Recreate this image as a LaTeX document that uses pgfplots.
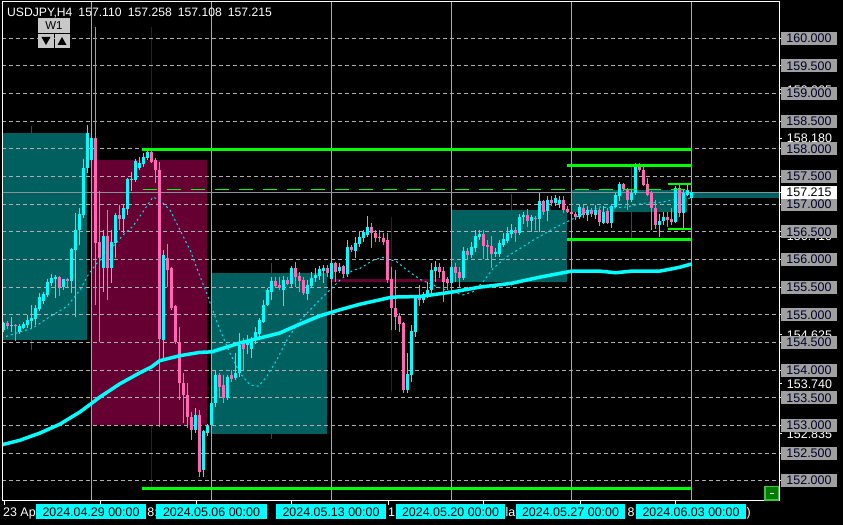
\documentclass[border=0pt]{standalone}
\usepackage{fontspec}
\setmainfont{Liberation Sans}
\usepackage{pgfplots}
\usepackage{pgfplotstable}
\pgfplotsset{compat=1.18}

\definecolor{bull}{RGB}{0,255,255}
\definecolor{bear}{RGB}{255,105,180}
\definecolor{tealbox}{RGB}{0,96,96}
\definecolor{crimbox}{RGB}{102,0,51}
\definecolor{gridc}{RGB}{175,175,175}
\definecolor{sepc}{RGB}{0,240,250}
\definecolor{bidc}{RGB}{135,145,155}
\definecolor{grn}{RGB}{0,255,0}
\definecolor{zigc}{RGB}{0,225,235}
\definecolor{lblgray}{RGB}{160,160,160}
\definecolor{lbltext}{RGB}{0,0,40}
\definecolor{btngray}{RGB}{200,200,200}
\definecolor{btngreen}{RGB}{0,125,0}
\definecolor{btnedge}{RGB}{70,190,70}

\newcommand\lblfont{\fontsize{12.5}{14}\selectfont}
\newcommand\hdrfont{\fontsize{12.2}{14}\selectfont}

\pgfplotstableread{
i o h l c
-22 154.72 154.87 154.69 154.86
-20 154.80 154.96 154.69 154.82
-18 154.69 154.84 154.66 154.80
-17 154.77 154.87 154.75 154.84
-16 154.81 154.99 154.76 154.90
-15 154.89 155.18 154.76 154.95
-14 154.93 155.18 154.81 155.13
-13 155.10 155.40 155.07 155.33
-12 155.25 155.42 155.19 155.37
-11 155.36 155.64 155.33 155.59
-10 155.57 155.74 155.52 155.67
-9 155.64 155.72 155.30 155.68
-7 155.50 155.65 155.45 155.65
-5 155.61 156.21 155.40 156.19
-4 156.18 156.84 154.96 156.54
-3 156.53 156.94 156.27 156.82
-2 156.80 157.82 156.75 157.65
-1 157.65 158.43 157.56 158.28
0 157.80 158.35 157.75 158.19
3 155.84 156.53 155.42 156.42
5 155.84 156.53 155.57 156.32
6 156.29 156.84 156.03 156.80
8 156.73 156.99 156.48 156.94
9 156.91 157.47 156.80 157.46
10 157.43 157.59 157.23 157.46
11 157.44 157.81 157.41 157.78
12 157.65 157.86 157.61 157.74
13 157.73 157.93 157.68 157.86
14 157.83 158.01 157.80 157.95
18 154.54 156.17 154.18 156.08
26 152.92 153.31 152.86 153.19
28 152.19 152.92 152.07 152.89
29 152.86 153.02 152.81 152.99
30 153.01 153.46 152.95 153.40
31 153.40 154.00 153.34 153.91
34 153.49 153.91 153.46 153.88
36 153.85 154.31 153.82 153.94
37 153.94 154.67 153.88 154.45
39 154.45 154.63 154.30 154.54
40 154.39 154.60 154.21 154.54
41 154.54 154.78 154.48 154.68
42 154.66 154.94 154.60 154.91
43 154.87 155.27 154.85 155.18
44 155.17 155.48 155.15 155.44
45 155.42 155.69 155.27 155.61
48 155.45 155.70 155.15 155.63
50 155.56 155.88 155.51 155.84
54 155.37 155.63 155.27 155.54
55 155.52 155.78 155.48 155.66
56 155.66 155.84 155.60 155.72
57 155.70 155.88 155.63 155.82
58 155.80 155.90 155.57 155.84
60 155.64 155.96 155.60 155.93
62 155.79 155.93 155.75 155.87
64 155.74 156.35 155.69 156.23
66 156.16 156.41 156.03 156.30
67 156.28 156.50 156.23 156.41
68 156.38 156.54 156.32 156.50
69 156.44 156.79 156.41 156.59
79 153.64 154.31 153.59 153.93
80 153.91 154.82 153.79 154.71
81 154.69 155.36 154.60 155.30
83 155.27 155.42 155.21 155.37
84 155.33 155.60 155.30 155.45
85 155.44 155.93 155.39 155.81
86 155.80 155.98 155.60 155.87
90 155.57 155.95 155.54 155.87
93 155.66 156.23 155.63 156.16
95 156.08 156.32 156.02 156.23
96 156.20 156.53 156.14 156.42
97 156.40 156.53 156.35 156.46
101 156.10 156.20 156.04 156.14
102 156.10 156.35 156.05 156.29
103 156.26 156.47 156.23 156.37
104 156.34 156.59 156.29 156.48
105 156.46 156.65 156.38 156.54
107 156.48 156.83 156.44 156.77
108 156.76 156.85 156.65 156.80
110 156.70 156.80 156.50 156.76
112 156.74 157.20 156.50 157.05
114 156.88 157.14 156.70 157.08
116 157.02 157.17 156.96 157.11
117 157.01 157.14 156.93 157.08
122 156.77 156.99 156.74 156.95
124 156.80 156.96 156.70 156.90
126 156.80 156.99 156.74 156.90
128 156.66 156.96 156.64 156.86
130 156.66 156.99 156.57 156.97
131 156.95 157.21 156.93 157.17
132 157.14 157.41 157.05 157.37
135 157.08 157.26 157.04 157.21
136 157.20 157.74 157.17 157.68
142 156.62 156.83 156.41 156.70
143 156.70 156.86 156.62 156.77
146 156.68 157.32 156.66 157.29
148 156.84 157.27 156.56 157.20
149 157.17 157.35 157.14 157.26
150 157.110 157.258 157.108 157.215
}\bulltab

\pgfplotstableread{
i o h l c
-21 154.85 154.89 154.74 154.80
-19 154.81 154.83 154.53 154.79
-8 155.68 155.70 155.34 155.50
-6 155.65 155.67 155.51 155.61
1 158.20 160.21 155.18 156.29
2 156.32 157.23 154.51 156.02
4 156.42 156.89 155.27 155.84
7 156.80 156.99 156.53 156.73
15 157.95 158.00 157.74 157.77
16 157.80 157.83 157.38 157.61
17 157.62 157.77 152.98 154.56
19 156.02 156.28 155.51 155.81
20 155.84 155.87 155.09 155.12
21 155.15 155.18 154.48 154.51
22 154.51 154.78 153.46 153.76
23 153.76 153.95 153.04 153.55
24 153.55 153.77 152.95 153.16
25 153.16 153.25 152.74 152.92
27 153.19 153.28 152.07 152.16
32 153.91 153.94 153.52 153.70
33 153.73 153.91 153.40 153.49
35 153.91 154.00 153.79 153.83
38 154.49 154.58 154.00 154.38
46 155.61 155.69 155.48 155.52
47 155.54 155.69 155.45 155.48
49 155.63 155.69 155.54 155.56
51 155.84 155.96 155.51 155.69
52 155.70 155.78 155.42 155.61
53 155.63 155.69 155.36 155.39
59 155.84 155.90 155.69 155.75
61 155.93 155.96 155.60 155.78
63 155.88 155.90 155.69 155.74
65 156.23 156.26 156.14 156.17
70 156.59 156.66 156.21 156.47
71 156.48 156.53 156.32 156.38
72 156.41 156.54 156.32 156.38
73 156.39 156.47 156.26 156.32
74 156.35 156.47 155.57 155.63
75 155.65 155.87 154.72 155.12
76 155.12 155.81 154.72 154.96
77 154.98 155.03 154.69 154.83
78 154.85 154.87 153.59 153.64
82 155.33 155.54 155.15 155.27
87 155.87 155.93 155.66 155.78
88 155.80 155.87 155.24 155.60
89 155.64 155.69 155.45 155.57
91 155.87 155.94 155.60 155.76
92 155.78 155.87 155.50 155.66
94 156.16 156.20 156.00 156.08
98 156.46 156.53 156.00 156.25
99 156.26 156.35 156.00 156.23
100 156.24 156.42 155.84 156.10
106 156.54 156.59 156.32 156.48
109 156.80 156.91 156.59 156.70
111 156.75 156.79 156.53 156.73
113 157.05 157.08 156.80 156.86
115 157.08 157.14 156.96 157.02
118 157.08 157.15 156.84 156.90
119 156.91 156.96 156.84 156.86
120 156.86 156.90 156.77 156.82
121 156.83 156.86 156.71 156.76
123 156.94 156.99 156.75 156.80
125 156.90 156.94 156.77 156.82
127 156.90 156.93 156.61 156.68
129 156.87 156.93 156.64 156.66
133 157.37 157.39 157.23 157.27
134 157.26 157.29 156.90 157.08
137 157.68 157.74 157.58 157.61
138 157.61 157.68 157.32 157.35
139 157.37 157.47 157.14 157.17
140 157.20 157.23 156.53 156.93
141 156.94 157.08 156.56 156.62
144 156.77 156.86 156.59 156.71
145 156.73 156.93 156.62 156.68
147 157.29 157.38 156.77 156.84
}\beartab

\begin{document}
\begin{tikzpicture}
\fill[black] (0,0) rectangle (843bp,525bp);
\begin{axis}[
  at={(2bp,24bp)}, anchor=south west,
  width=777bp, height=499bp, scale only axis,
  xmin=-22.425, xmax=171.825, ymin=151.633, ymax=160.656,
  axis line style={draw=none},
  xtick=\empty, ytick=\empty,
  tick style={draw=none},
  candle/.style={draw=none, mark=none, forget plot,
    error bars/y dir=minus, error bars/y explicit, error bars/error mark=none},
]
% weekly wicks
\addplot[tealbox, line width=1bp] coordinates {(-15.1,154.36) (-15.1,158.41)};
\addplot[crimbox, line width=1bp] coordinates {(15,151.86) (15,160.21)};
\addplot[tealbox, line width=1bp] coordinates {(44.9,152.76) (44.9,155.93)};
\addplot[crimbox, line width=1bp] coordinates {(74.9,153.61) (74.9,156.77)};
\addplot[tealbox, line width=1bp] coordinates {(104.9,155.50) (104.9,157.18)};
\addplot[tealbox, line width=1bp] coordinates {(134.9,156.38) (134.9,157.68)};
% weekly boxes
\addplot[fill=tealbox, draw=none] coordinates {(-30,154.54) (-1.1,154.54) (-1.1,158.29) (-30,158.29)} -- cycle;
\addplot[fill=crimbox, draw=none] coordinates {(-0.2,153.01) (28.75,153.01) (28.75,157.80) (-0.2,157.80)} -- cycle;
\addplot[fill=tealbox, draw=none] coordinates {(29.9,152.84) (58.75,152.84) (58.75,155.75) (29.9,155.75)} -- cycle;
\addplot[fill=crimbox, draw=none] coordinates {(59.9,155.60) (88.8,155.60) (88.8,155.645) (59.9,155.645)} -- cycle;
\addplot[fill=tealbox, draw=none] coordinates {(89.9,155.60) (118.8,155.60) (118.8,156.89) (89.9,156.89)} -- cycle;
\addplot[fill=tealbox, draw=none] coordinates {(119.9,156.86) (148.75,156.86) (148.75,157.26) (119.9,157.26)} -- cycle;
\addplot[fill=tealbox, draw=none] coordinates {(149.9,157.11) (200,157.11) (200,157.215) (149.9,157.215)} -- cycle;
% grid
\pgfplotsinvokeforeach{152,152.5,153,153.5,154,154.5,155,155.5,156,156.5,157,157.5,158,158.5,159,159.5,160}{
  \addplot[gridc, line width=1bp, dash pattern=on 4bp off 3bp] coordinates {(-22.425,#1) (171.825,#1)};
}
% period separators
\pgfplotsinvokeforeach{0,30,60,90,120,150}{
  \addplot[sepc, line width=1.2bp] coordinates {(#1,150) (#1,162)};
}
% bid line
\addplot[bidc, line width=1bp] coordinates {(-30,157.215) (200,157.215)};
% wicks
\addplot[candle, error bars/error bar style={draw=bull, line width=1bp}]
  table[x=i, y=h, y error minus expr={\thisrow{h}-\thisrow{l}}] {\bulltab};
\addplot[candle, error bars/error bar style={draw=bear, line width=1bp}]
  table[x=i, y=h, y error minus expr={\thisrow{h}-\thisrow{l}}] {\beartab};
% bodies
\addplot[candle, error bars/error bar style={draw=bull, line width=3bp}]
  table[x=i, y=c, y error minus expr={\thisrow{c}-\thisrow{o}}] {\bulltab};
\addplot[candle, error bars/error bar style={draw=bear, line width=3bp}]
  table[x=i, y=o, y error minus expr={\thisrow{o}-\thisrow{c}}] {\beartab};
% dashed fast average
\addplot[zigc, line width=1bp, dash pattern=on 2bp off 3bp] coordinates {
(-22.6,154.58) (-17.9,154.69) (-14.7,154.76) (-10.4,154.97) (-6.2,155.15) (-2.9,155.45) (-0.9,155.72) (1.25,155.93) (4.6,156.17) (7.8,156.44) (10.3,156.60) (12.8,156.86) (15.3,157.13) (17.1,157.07) (19.6,156.89) (22.1,156.53) (24.6,156.17) (27.1,155.69) (28.75,155.39) (29.9,155.15) (32.1,154.72) (34.6,154.30) (37.1,153.94) (39.6,153.73) (41.7,153.71) (43.75,153.88) (46.25,154.18) (48.75,154.54) (52.1,154.90) (55.4,155.15) (58.75,155.39) (62.1,155.63) (65.4,155.81) (67.1,155.84) (70.4,155.99) (72.9,156.04) (76.25,155.96) (78.75,155.81) (82.1,155.64) (86.25,155.51) (89.6,155.42) (92.9,155.36) (95.4,155.42) (97.9,155.60) (100.4,155.84) (103.75,156.05) (107.1,156.20) (110.4,156.35) (112.1,156.42) (115.4,156.56) (118.75,156.68) (121.25,156.77) (123.75,156.86) (127.1,156.95) (130.4,156.93) (133.75,156.95) (137.9,157.02) (142.1,157.03) (145.4,157.08) (149.6,157.11)};
% slow moving average
\addplot[bull, line width=3.5bp, line join=round] coordinates {
(-23,152.64) (-18,152.73) (-13,152.86) (-8,153.02) (-3,153.24) (0,153.40) (2,153.51) (7,153.75) (12,153.95) (15,154.06) (17,154.17) (22,154.26) (27,154.32) (30,154.33) (37,154.49) (42,154.58) (47,154.67) (52,154.83) (57,154.98) (62,155.09) (67,155.19) (72,155.27) (75,155.32) (82,155.33) (87,155.38) (90,155.41) (97,155.50) (105,155.57) (112,155.68) (120,155.79) (127,155.79) (131,155.76) (135,155.79) (142,155.79) (145,155.83) (147,155.86) (150,155.92)};
% green levels
\addplot[grn, line width=3bp] coordinates {(12.6,157.98) (150,157.98)};
\addplot[grn, line width=3bp] coordinates {(12.6,151.85) (150,151.85)};
\addplot[grn, line width=2.7bp] coordinates {(118.9,157.70) (150,157.70)};
\addplot[grn, line width=2.7bp] coordinates {(118.9,156.36) (150,156.36)};
\addplot[grn, line width=2bp] coordinates {(144,157.36) (150,157.36)};
\addplot[grn, line width=2bp] coordinates {(144,156.55) (150,156.55)};
\addplot[grn, line width=1.2bp, dash pattern=on 14bp off 10bp] coordinates {(12.7,157.27) (150,157.27)};
\end{axis}

\begin{scope}[x=1bp, y=-1bp, shift={(0,525bp)}]
\draw[white, line width=1bp] (2,2) rectangle (779,501);
% right ticks
\foreach \y in {38.3,66.0,93.6,121.3,148.9,176.6,204.2,231.9,259.5,287.2,314.8,342.5,370.1,397.8,425.4,453.1,480.7,90.0,138.3,192.3,236.2,334.9,383.9,434.0}
  \draw[white, line width=1bp] (779,\y) -- (782,\y);
% white labels partly hidden behind the grey boxes
\foreach \y/\t in {90.0/159.065, 138.3/158.180, 236.2/156.410, 334.9/154.625, 383.9/153.740, 434.0/152.835}
  \node[text=white, font=\lblfont, inner sep=0] at (809.5,\y) {\t};
% gray price boxes
\foreach \y/\t in {38.3/160.000, 66.0/159.500, 93.6/159.000, 121.3/158.500, 148.9/158.000, 176.6/157.500, 204.2/157.000, 231.9/156.500, 259.5/156.000, 287.2/155.500, 314.8/155.000, 342.5/154.500, 370.1/154.000, 397.8/153.500, 425.4/153.000, 453.1/152.500, 480.7/152.000}
  \node[fill=lblgray, text=lbltext, minimum width=56bp, minimum height=13bp, inner sep=0, font=\lblfont] at (809,\y) {\t};
\node[fill=white, text=black, minimum width=56bp, minimum height=13bp, inner sep=0, font=\lblfont] at (809,192.3) {157.215};
% bottom ticks
\foreach \x in {4,100,196,291,388,483,580,675}
  \draw[white, line width=1bp] (\x,501) -- (\x,505);
% visible fragments of the platform's own time labels
\foreach \x/\t in {3/23 Ap, 147.3/8:, 388/1, 505.5/la, 627.5/8, 746.5/)}
  \node[anchor=base west, text=white, font=\lblfont, inner sep=0] at (\x,516.5) {\t};
% cyan date labels
\foreach \a/\b/\t in {36/146/2024.04.29 00:00, 156/267/2024.05.06 00:00, 276/386/2024.05.13 00:00, 396/505/2024.05.20 00:00, 516/625/2024.05.27 00:00, 636/746/2024.06.03 00:00}{
  \fill[bull] (\a,504.5) rectangle (\b,519.5);
  \node[anchor=base, text=black, font=\lblfont, inner sep=0] at ({(\a+\b)/2},516.5) {\t};
}
% header
\node[anchor=base west, text=white, font=\hdrfont, inner sep=0] at (7,16.7) {USDJPY,H4};
\node[anchor=base west, text=white, font=\hdrfont, inner sep=0] at (78.3,16.7) {157.110};
\node[anchor=base west, text=white, font=\hdrfont, inner sep=0] at (127.7,16.7) {157.258};
\node[anchor=base west, text=white, font=\hdrfont, inner sep=0] at (177.7,16.7) {157.108};
\node[anchor=base west, text=white, font=\hdrfont, inner sep=0] at (227.7,16.7) {157.215};
% W1 buttons
\fill[btngray] (38,18.5) rectangle (70,33);
\node[text=black, font=\fontsize{11.5}{13}\selectfont, inner sep=0] at (54,25.8) {W1};
\fill[btngray] (38,34) rectangle (54,48);
\fill[btngray] (55,34) rectangle (70,48);
\fill[black] (41.5,37) -- (50.5,37) -- (46,45) -- cycle;
\fill[black] (57.5,45) -- (66.5,45) -- (62,37) -- cycle;
% green minus button
\fill[btnedge] (764,486) rectangle (779,501);
\fill[btngreen] (765.5,487.5) rectangle (777.5,499.5);
\draw[white, line width=1bp] (769.5,493.5) -- (773.5,493.5);
\end{scope}
\pgfresetboundingbox
\path[use as bounding box] (0,0) rectangle (843bp,525bp);
\end{tikzpicture}
\end{document}
